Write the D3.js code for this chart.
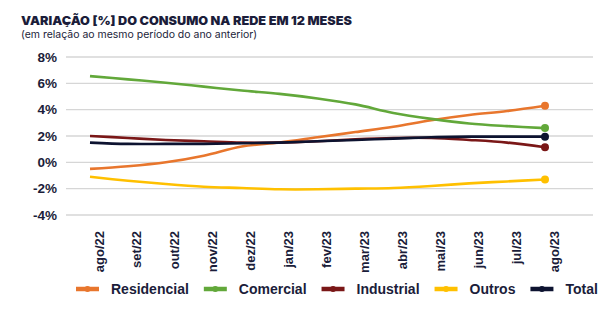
<!DOCTYPE html>
<html>
<head>
<meta charset="utf-8">
<script src="https://cdn.jsdelivr.net/npm/d3@7"></script>
<style>
  body { margin: 0; background: #fff; }
  svg { display: block; }
</style>
</head>
<body>
<div id="chart"></div>
<script>
// months on the x axis
var months = ["ago/22","set/22","out/22","nov/22","dez/22","jan/23","fev/23","mar/23","abr/23","mai/23","jun/23","jul/23","ago/23"];
var yTicks = [-4, -2, 0, 2, 4, 6, 8];

// values (%)
var residencial = [-0.5, -0.3, 0.0, 0.5, 1.2, 1.5, 1.9, 2.3, 2.7, 3.2, 3.6, 3.9, 4.3];
var comercial   = [6.55, 6.3, 6.05, 5.75, 5.45, 5.2, 4.85, 4.4, 3.75, 3.3, 2.95, 2.75, 2.6];
var industrial  = [2.0, 1.85, 1.7, 1.6, 1.5, 1.5, 1.6, 1.75, 1.85, 1.85, 1.7, 1.5, 1.15];
var outros      = [-1.1, -1.4, -1.65, -1.85, -1.95, -2.05, -2.05, -2.0, -1.95, -1.8, -1.6, -1.45, -1.3];
var total       = [1.5, 1.4, 1.4, 1.4, 1.45, 1.5, 1.6, 1.7, 1.8, 1.9, 1.95, 1.95, 1.95];

var seriesNames = ["Residencial", "Comercial", "Industrial", "Outros", "Total"];
var seriesColors = ["#E8762D", "#62A83A", "#7A1717", "#FFC000", "#0D1330"];
var seriesValues = [residencial, comercial, industrial, outros, total];

var W = 612, H = 323;
var textColor = "#1b1d3a";

var svg = d3.select("#chart")
  .append("svg")
    .attr("width", W)
    .attr("height", H);

// title
svg.append("text")
  .attr("x", 21)
  .attr("y", 25)
  .style("font-family", "Inter")
  .style("font-weight", 900)
  .style("font-size", "12px")
  .attr("textLength", 331)
  .attr("lengthAdjust", "spacingAndGlyphs")
  .style("fill", textColor)
  .text("VARIAÇÃO [%] DO CONSUMO NA REDE EM 12 MESES");

svg.append("text")
  .attr("x", 21)
  .attr("y", 38)
  .style("font-family", "Inter")
  .style("font-size", "10.5px")
  .attr("textLength", 236)
  .attr("lengthAdjust", "spacingAndGlyphs")
  .style("fill", textColor)
  .text("(em relação ao mesmo período do ano anterior)");

// scales
var x = d3.scalePoint()
  .domain(months)
  .range([90, 545]);

var y = d3.scaleLinear()
  .domain([-4, 8])
  .range([215, 57]);

var gridLeft = 66, gridRight = 593;

// gridlines
svg.append("g")
  .selectAll("line")
  .data(yTicks)
  .enter()
  .append("line")
    .attr("x1", gridLeft)
    .attr("x2", gridRight)
    .attr("y1", d => y(d))
    .attr("y2", d => y(d))
    .style("stroke", "#d6d6d6")
    .style("stroke-width", 1.3);

// y axis
var yAxis = svg.append("g")
  .attr("transform", "translate(" + gridLeft + ",0)")
  .call(d3.axisLeft(y).tickValues(yTicks).tickSize(0).tickPadding(9).tickFormat(d => d + "%"));
yAxis.select(".domain").remove();
yAxis.selectAll("text")
  .style("font-family", "Liberation Sans")
  .style("font-weight", "bold")
  .style("font-size", "13.5px")
  .style("fill", textColor);

// x axis, rotated labels
var xAxis = svg.append("g")
  .attr("transform", "translate(0,226)")
  .call(d3.axisBottom(x).tickSize(0).tickPadding(0));
xAxis.select(".domain").remove();
xAxis.selectAll("text")
  .style("font-family", "Liberation Sans")
  .style("font-weight", "bold")
  .style("font-size", "13px")
  .style("fill", textColor)
  .style("text-anchor", "end")
  .attr("dy", null)
  .attr("y", 0)
  .attr("transform", "translate(13,5) rotate(-90)");

// lines
var line = d3.line()
  .x((d, i) => x(months[i]))
  .y(d => y(d))
  .curve(d3.curveCatmullRom.alpha(0.5));

seriesValues.forEach(function(vals, k) {
  svg.append("path")
    .datum(vals)
    .attr("d", line)
    .style("fill", "none")
    .style("stroke", seriesColors[k])
    .style("stroke-width", 2.6);

  svg.append("circle")
    .attr("cx", x(months[months.length - 1]))
    .attr("cy", y(vals[vals.length - 1]))
    .attr("r", 4)
    .style("fill", seriesColors[k]);
});

// legend
var legend = svg.append("g").attr("transform", "translate(0,289)");
var lx = 76;
seriesNames.forEach(function(name, k) {
  legend.append("line")
    .attr("x1", lx).attr("x2", lx + 23)
    .attr("y1", 0).attr("y2", 0)
    .style("stroke", seriesColors[k])
    .style("stroke-width", 4.5);
  legend.append("circle")
    .attr("cx", lx + 11.5).attr("cy", 0).attr("r", 3)
    .style("fill", seriesColors[k]);
  var t = legend.append("text")
    .attr("x", lx + 35)
    .attr("y", 5)
    .style("font-family", "Liberation Sans")
    .style("font-weight", "bold")
    .style("font-size", "14px")
    .style("fill", textColor)
    .text(name);
  lx = lx + 35 + t.node().getComputedTextLength() + 15;
});
</script>
</body>
</html>
